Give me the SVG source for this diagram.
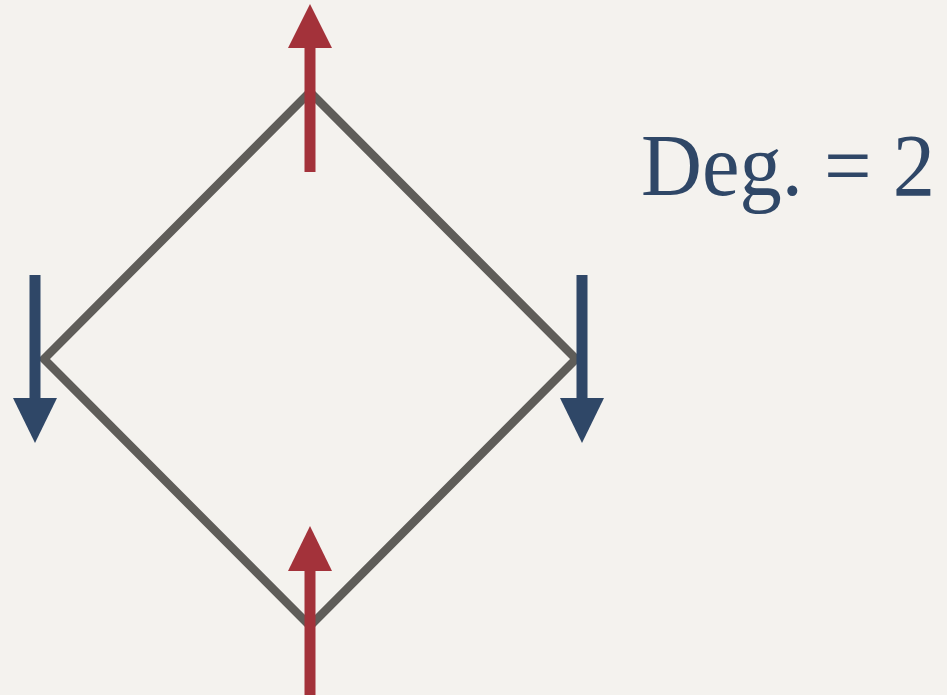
<svg xmlns="http://www.w3.org/2000/svg" width="947" height="695" viewBox="0 0 947 695">
<style>
.edge{fill:none;stroke:#5f5d59;stroke-width:8.5;stroke-linejoin:miter}
.red{fill:#a3323a}
.blue{fill:#2f4767}
.lbl{font-family:"Liberation Serif","DejaVu Serif",serif;font-size:88px;fill:#2f4767}
</style>
<rect width="947" height="695" fill="#f4f2ee"/>
<g id="connectors">
<polygon class="edge" points="310,92 576,359 310,626 44,359"/>
</g>
<g id="arrow-top">
<rect class="red" x="304.5" y="46" width="11" height="126"/>
<polygon class="red" points="310,4 332,48 288,48"/>
</g>
<g id="arrow-bottom">
<rect class="red" x="304.5" y="569" width="11" height="126"/>
<polygon class="red" points="310,526 332,571 288,571"/>
</g>
<g id="arrow-left">
<rect class="blue" x="29.5" y="275" width="11" height="125"/>
<polygon class="blue" points="13,398 57,398 35,443"/>
</g>
<g id="arrow-right">
<rect class="blue" x="576.5" y="275" width="11" height="125"/>
<polygon class="blue" points="560,398 604,398 582,443"/>
</g>
<g id="label">
<text class="lbl" x="641" y="195" textLength="294" lengthAdjust="spacingAndGlyphs">Deg. = 2</text>
</g>
</svg>
